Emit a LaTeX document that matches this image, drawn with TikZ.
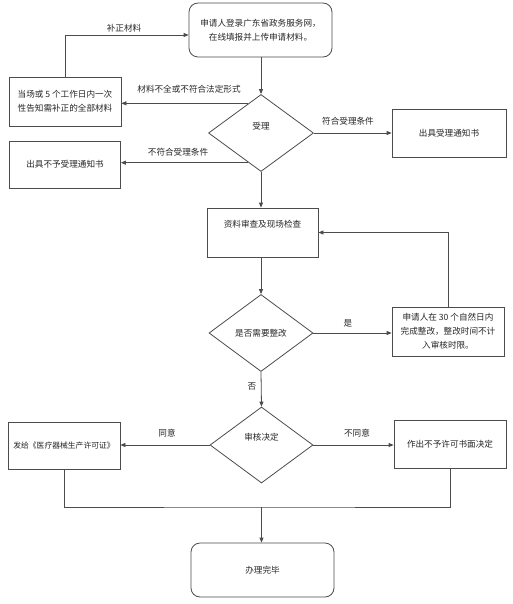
\documentclass[tikz,border=0pt]{standalone}
\usepackage{fontspec}
\setmainfont{Noto Sans CJK SC}
\usetikzlibrary{shapes.geometric,arrows.meta,calc}
\tikzset{
  ln/.style={draw=black!70, line width=0.8pt},
  arr/.style={ln, -{Triangle[length=5pt,width=4pt]}},
  txt/.style={font=\fontsize{8.6}{14}\selectfont, text=black!85, align=center, inner sep=1pt},
  boxn/.style={ln, rectangle, inner sep=0pt, txt},
  roundn/.style={ln, rectangle, rounded corners=9pt, inner sep=0pt, txt},
  dia/.style={ln, diamond, inner sep=0pt, txt},
  lab/.style={txt, fill=none}
}
\begin{document}
\begin{tikzpicture}[x=1pt,y=-1pt]
\useasboundingbox[fill=white] (0,0) rectangle (513,604);
% nodes
\node[roundn, minimum width=143pt, minimum height=54pt] (top) at (260.5,30) {申请人登录广东省政务服务网，\\在线填报并上传申请材料。};
\node[dia, minimum width=105pt, minimum height=77pt] (d1) at (261,133) {};
\node[txt] (d1t) at ([yshift=7pt]d1.center) {受理};
\node[boxn, minimum width=112pt, minimum height=49pt] (lb1) at (65,101.5) {当场或 5 个工作日内一次\\性告知需补正的全部材料};
\node[boxn, minimum width=114pt, minimum height=48pt] (rb1) at (449,133) {出具受理通知书};
\node[boxn, minimum width=111pt, minimum height=47pt] (lb2) at (65,164.5) {出具不予受理通知书};
\node[boxn, minimum width=111pt, minimum height=49pt] (box2) at (262.5,232.5) {};
\node[txt] (box2t) at ([yshift=8pt]box2.center) {资料审查及现场检查};
\node[dia, minimum width=104pt, minimum height=77pt] (d2) at (261,333) {是否需要整改};
\node[boxn, minimum width=112pt, minimum height=49pt] (rb2) at (448,331.5) {申请人在 30 个自然日内\\完成整改，整改时间不计\\入审核时限。};
\node[dia, minimum width=103pt, minimum height=76pt] (d3) at (261.5,445) {};
\node[txt] (d3t) at ([yshift=8pt]d3.center) {审核决定};
\node[boxn, minimum width=112pt, minimum height=47pt, font=\fontsize{7.8}{14}\selectfont] (lb3) at (64,445.5) {发给《医疗器械生产许可证》};
\node[boxn, minimum width=112pt, minimum height=48pt] (rb3) at (450,444) {作出不予许可书面决定};
\node[roundn, minimum width=143pt, minimum height=54pt] (end) at (262.5,570) {办理完毕};
\coordinate (m) at (261.5,507);
% connectors
\draw[arr] (top.south -| d1.north) -- (d1.north);
\draw[arr] (lb1.north) |- ([yshift=-5pt]top.west);
\node[lab] (l1) at (124,28) {补正材料};
\coordinate (p1) at ($(d1.north)!0.237!(d1.west)$);
\draw[arr] (p1) -- (p1 -| lb1.east);
\node[lab] (l2) at (189,89) {材料不全或不符合法定形式};
\coordinate (p2) at ($(d1.south)!0.237!(d1.west)$);
\draw[arr] (p2) -- (p2 -| lb2.east);
\node[lab] (l3) at (178,152) {不符合受理条件};
\draw[arr] (d1.east) -- (d1.east -| rb1.west);
\node[lab] (l4) at (348,121) {符合受理条件};
\draw[arr] (d1.south) -- (d1.south |- box2.north);
\draw[arr] (d1.south |- box2.south) -- (d2.north);
\draw[arr] (d2.east) -- (d2.east -| rb2.west);
\node[lab] (l5) at (348,323) {是};
\draw[arr] (rb2.north) |- (box2.east);
\draw[arr] (d2.south) -- (d3.south |- d3.north);
\node[lab] (l6) at (252,386) {否};
\draw[arr] (d3.west) -- (lb3.east |- d3.west);
\node[lab] (l7) at (167,433) {同意};
\draw[arr] (d3.east) -- (rb3.west |- d3.east);
\node[lab] (l8) at (357,433) {不同意};
\draw[ln] (lb3.south) |- (m) -| (rb3.south);
\draw[arr] (m) -- (m |- end.north);
\end{tikzpicture}
\end{document}
